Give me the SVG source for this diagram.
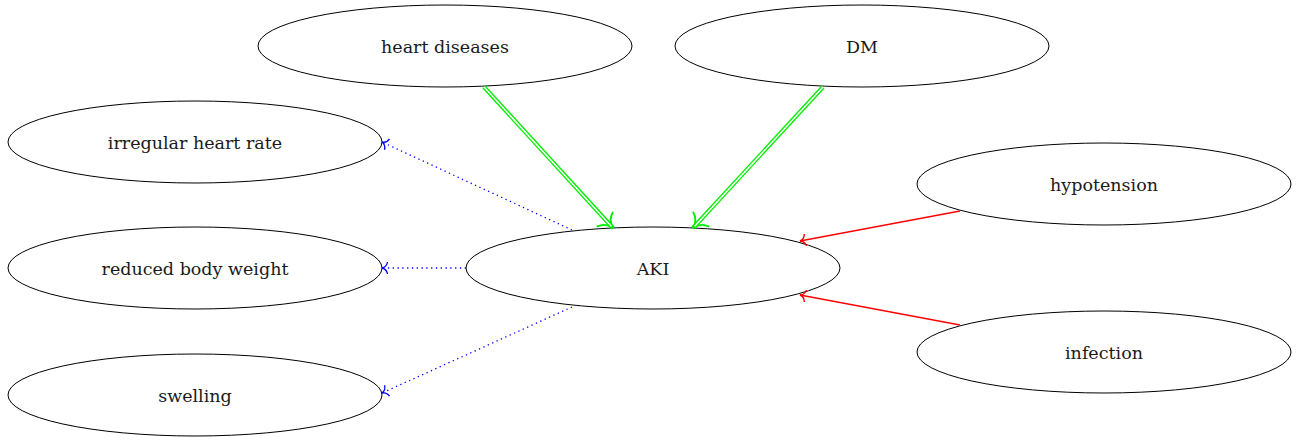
<svg xmlns="http://www.w3.org/2000/svg" width="1303" height="440" viewBox="0 0 1303 440">
<style>
.node ellipse{fill:#fff;stroke:#000;stroke-width:1}
.node text{font-family:"DejaVu Serif","Liberation Serif",serif;font-size:17.5px;text-anchor:middle;fill:#1a1a1a}
.green{fill:none;stroke:#00ee00;stroke-width:4.2}
.gin{fill:none;stroke:#fff;stroke-width:1.6}
.blue{fill:none;stroke:#0000ff;stroke-width:1.3;stroke-dasharray:1.3 3.5}
.red{fill:none;stroke:#ff0000;stroke-width:1.4}
</style>
<defs>
<marker id="ab" markerUnits="userSpaceOnUse" viewBox="-9 -8 11 16" refX="0" refY="0" markerWidth="11" markerHeight="16" orient="auto">
<path d="M-5.5,-6 C-5,-2.5 -2,-0.5 0,0 C-2,0.5 -5,2.5 -5.5,6" fill="none" stroke="#0000ff" stroke-width="1.3"/>
</marker>
<marker id="ar" markerUnits="userSpaceOnUse" viewBox="-9 -8 11 16" refX="0" refY="0" markerWidth="11" markerHeight="16" orient="auto">
<path d="M-5.5,-6 C-5,-2.5 -2,-0.5 0,0 C-2,0.5 -5,2.5 -5.5,6" fill="none" stroke="#ff0000" stroke-width="1.4"/>
</marker>
<marker id="ag" markerUnits="userSpaceOnUse" viewBox="-16 -14 18 28" refX="0" refY="0" markerWidth="18" markerHeight="28" orient="auto">
<path d="M-12,-11 C-10,-5 -5,-1 0,0 C-5,1 -10,5 -12,11" fill="none" stroke="#00ee00" stroke-width="1.8"/>
</marker>
</defs>
<g id="nodes">
<g id="heart-diseases" class="node"><ellipse cx="445" cy="46" rx="187" ry="41"/><text x="445" y="53">heart diseases</text></g>
<g id="DM" class="node"><ellipse cx="862" cy="46" rx="187" ry="41"/><text x="862" y="53">DM</text></g>
<g id="irregular-heart-rate" class="node"><ellipse cx="195" cy="142" rx="187" ry="41"/><text x="195" y="149">irregular heart rate</text></g>
<g id="reduced-body-weight" class="node"><ellipse cx="195" cy="268" rx="187" ry="41"/><text x="195" y="275">reduced body weight</text></g>
<g id="swelling" class="node"><ellipse cx="195" cy="395" rx="187" ry="41"/><text x="195" y="402">swelling</text></g>
<g id="AKI" class="node"><ellipse cx="653" cy="268" rx="187" ry="41"/><text x="653" y="275">AKI</text></g>
<g id="hypotension" class="node"><ellipse cx="1104" cy="184" rx="187" ry="41"/><text x="1104" y="191">hypotension</text></g>
<g id="infection" class="node"><ellipse cx="1104" cy="352" rx="187" ry="41"/><text x="1104" y="359">infection</text></g>
</g>
<g id="connectors">
<path class="green" d="M484,87 L613,228" marker-end="url(#ag)"/>
<path class="gin" d="M484,87 L611.3,226.2"/>
<path class="green" d="M823,87 L693,228" marker-end="url(#ag)"/>
<path class="gin" d="M823,87 L694.7,226.2"/>
<path class="blue" d="M572,230 L382,142" marker-end="url(#ab)"/>
<path class="blue" d="M466,268 L382,268" marker-end="url(#ab)"/>
<path class="blue" d="M572,307 L382,393" marker-end="url(#ab)"/>
<path class="red" d="M960,211 L800,241" marker-end="url(#ar)"/>
<path class="red" d="M960,325 L800,295" marker-end="url(#ar)"/>
</g>
</svg>
